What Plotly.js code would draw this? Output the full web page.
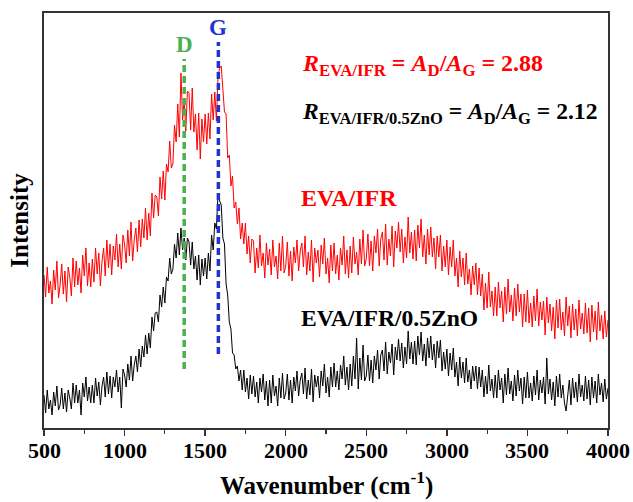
<!DOCTYPE html>
<html>
<head>
<meta charset="utf-8">
<script src="https://cdn.plot.ly/plotly-3.0.1.min.js"></script>
<style>
  html, body { margin: 0; padding: 0; background: #fff; }
  #chart { width: 633px; height: 502px; }
</style>
</head>
<body>
<div id="chart"></div>
<script>
// Raman spectra, sampled every 10 cm-1 from 500 to 4000 cm-1 (arbitrary intensity units)
const waveStart = 500;
const waveStep = 10;

const evaIfr = [
  153,131,161,135,147,124,158,138,167,130,
  143,164,134,157,126,161,151,132,170,141,
  167,143,160,135,173,152,180,142,165,141,
  169,146,180,154,175,142,167,180,152,188,
  160,184,153,182,168,194,161,184,159,193,
  184,165,198,172,206,167,188,200,176,208,
  181,209,190,220,188,215,192,235,210,233,
  231,212,251,229,257,228,264,256,287,260,
  264,303,286,324,291,355,308,329,297,337,
  335,298,340,296,314,278,315,269,309,286,
  314,284,315,289,334,308,336,307,352,360,
  362,340,316,314,270,273,242,252,220,226,
  204,220,189,205,184,205,174,192,165,189,
  187,155,180,160,193,162,175,150,185,163,
  179,153,188,161,172,149,185,157,192,155,
  162,186,152,177,147,181,165,188,157,177,
  185,161,192,153,176,157,188,146,180,165,
  178,151,183,164,190,154,170,145,183,157,
  185,154,173,148,180,163,192,154,178,150,
  182,155,191,164,176,153,189,164,198,162,
  169,194,162,187,157,192,175,199,162,189,
  196,168,204,163,189,172,202,161,197,180,
  206,176,199,165,191,170,211,175,196,169,
  198,167,203,180,209,171,193,164,199,173,
  201,171,190,159,192,171,193,157,182,161,
  188,153,181,161,188,152,170,141,177,151,
  170,143,175,144,159,133,162,143,165,133,
  160,132,154,118,145,120,156,121,137,112,
  141,112,146,120,137,106,141,114,149,116,
  133,107,140,112,144,116,134,101,134,106,
  138,105,125,101,132,107,139,102,126,108,
  127,93,131,105,124,97,121,89,128,100,
  129,98,116,92,131,102,122,90,124,98,
  119,92,128,99,115,94,125,95,120,86,
  123,96,117,88,126,97,113,89,117,91,
  108
];

const evaIfrZnO = [
  33,15,38,19,28,13,36,22,42,18,
  23,40,19,35,16,38,30,19,45,25,
  43,25,38,13,45,31,51,27,41,25,
  43,25,50,32,46,23,42,51,31,56,
  34,52,30,51,41,58,36,51,20,59,
  53,41,64,48,72,47,63,72,56,79,
  61,82,71,93,74,95,80,111,97,115,
  116,106,133,121,141,125,151,147,170,154,
  159,184,170,195,173,200,178,190,168,190,
  186,163,186,159,172,148,173,143,169,152,
  170,149,175,157,193,178,205,199,235,227,
  223,190,184,144,133,106,99,75,73,59,
  62,47,58,38,58,36,50,29,53,34,
  52,31,46,25,50,36,54,28,47,22,
  48,25,53,32,42,22,50,30,55,29,
  35,54,28,48,25,51,37,57,32,48,
  55,34,60,29,48,33,59,26,53,41,
  52,30,57,42,64,35,51,31,61,41,
  65,41,57,38,63,49,72,43,61,38,
  64,42,72,49,90,39,70,48,83,47,
  52,73,47,68,45,72,58,78,49,73,
  78,57,86,54,76,65,84,53,81,68,
  89,67,85,60,81,64,97,69,86,64,
  87,63,92,73,96,67,84,62,90,70,
  92,68,84,60,87,70,88,57,76,59,
  79,52,75,58,80,51,66,42,71,50,
  66,45,70,46,58,39,62,47,62,39,
  61,41,58,31,52,34,63,37,49,30,
  53,30,58,38,50,25,54,33,60,34,
  47,27,53,32,58,37,50,24,51,30,
  56,30,45,27,52,33,58,28,48,35,
  51,24,70,34,49,28,46,22,52,31,
  54,30,43,25,17,33,48,23,50,30,
  46,26,54,31,43,27,52,29,48,23,
  51,30,47,25,54,33,45,26,49,29,
  40
];

// D and G band positions (cm-1) and the intensity span of their marker lines
const bandNames = ['D', 'G'];
const bandPos = [1370, 1582];
const bandLow = [59, 74];
const bandHigh = [369, 386];
const bandColors = ['#4caf50', '#2233cc'];

const xTicks = [500, 1000, 1500, 2000, 2500, 3000, 3500, 4000];

const wavenumber = evaIfr.map((_, i) => waveStart + waveStep * i);

const serif = 'Liberation Serif, Times New Roman, serif';

const traces = [
  {
    x: wavenumber, y: evaIfr, type: 'scatter', mode: 'lines',
    line: { color: '#ff0000', width: 1 }, name: 'EVA/IFR', hoverinfo: 'skip'
  },
  {
    x: wavenumber, y: evaIfrZnO, type: 'scatter', mode: 'lines',
    line: { color: '#000000', width: 1 }, name: 'EVA/IFR/0.5ZnO', hoverinfo: 'skip'
  }
];

const shapes = bandPos.map((p, i) => ({
  type: 'line', xref: 'x', yref: 'y', layer: 'above',
  x0: p, x1: p, y0: bandLow[i], y1: bandHigh[i],
  line: { color: bandColors[i], width: 3.5, dash: '7px,4px' }
}));

const annotations = bandPos.map((p, i) => ({
  x: p, y: bandHigh[i], xref: 'x', yref: 'y', yanchor: 'bottom',
  text: bandNames[i], showarrow: false,
  font: { family: serif, size: 23, weight: 'bold', color: bandColors[i] }
}));

// bold wavenumber labels under each major tick
xTicks.forEach(v => annotations.push({
  x: v, y: 0, xref: 'x', yref: 'paper', xanchor: 'center', yanchor: 'middle',
  yshift: -22, showarrow: false, text: String(v),
  font: { family: serif, size: 22, weight: 'bold', color: '#000' }
}));

annotations.push(
  {
    x: 2090, y: 363, xref: 'x', yref: 'y', xanchor: 'left', yanchor: 'middle', showarrow: false,
    text: '<i>R</i><sub>EVA/IFR</sub> = <i>A</i><sub>D</sub>/<i>A</i><sub>G</sub> = 2.88',
    font: { family: serif, size: 24, weight: 'bold', color: '#ff0000' }
  },
  {
    x: 2090, y: 315, xref: 'x', yref: 'y', xanchor: 'left', yanchor: 'middle', showarrow: false,
    text: '<i>R</i><sub>EVA/IFR/0.5ZnO</sub> = <i>A</i><sub>D</sub>/<i>A</i><sub>G</sub> = 2.12',
    font: { family: serif, size: 23.6, weight: 'bold', color: '#000000' }
  },
  {
    x: 2085, y: 230, xref: 'x', yref: 'y', xanchor: 'left', yanchor: 'middle', showarrow: false,
    text: 'EVA/IFR',
    font: { family: serif, size: 24, weight: 'bold', color: '#ff0000' }
  },
  {
    x: 2085, y: 110, xref: 'x', yref: 'y', xanchor: 'left', yanchor: 'middle', showarrow: false,
    text: 'EVA/IFR/0.5ZnO',
    font: { family: serif, size: 23.6, weight: 'bold', color: '#000000' }
  },
  {
    x: 0.5, y: 0, xref: 'paper', yref: 'paper', xanchor: 'center', yanchor: 'bottom',
    yshift: -73, showarrow: false, borderpad: 0,
    text: 'Wavenumber (cm<sup>-1</sup>)',
    font: { family: serif, size: 25, weight: 'bold', color: '#000' }
  }
);

const layout = {
  width: 633, height: 502,
  margin: { l: 44, r: 25, t: 13, b: 74 },
  paper_bgcolor: '#ffffff', plot_bgcolor: '#ffffff',
  showlegend: false,
  xaxis: {
    range: [500, 4000],
    tickmode: 'array', tickvals: xTicks, showticklabels: false,
    ticks: 'outside', ticklen: 6, tickwidth: 1.5, tickcolor: '#333',
    minor: { dtick: 250, ticks: 'outside', ticklen: 4, tickwidth: 1.2, tickcolor: '#333', showgrid: false },
    showgrid: false, zeroline: false,
    showline: true, linecolor: '#333', linewidth: 2, mirror: true
  },
  yaxis: {
    range: [0, 415],
    showticklabels: false, ticks: '',
    showgrid: false, zeroline: false,
    showline: true, linecolor: '#333', linewidth: 2, mirror: true,
    title: { text: 'Intensity', font: { family: serif, size: 25, weight: 'bold', color: '#000' }, standoff: 6 }
  },
  shapes: shapes,
  annotations: annotations
};

Plotly.newPlot('chart', traces, layout, { displayModeBar: false, staticPlot: true });
</script>
</body>
</html>
